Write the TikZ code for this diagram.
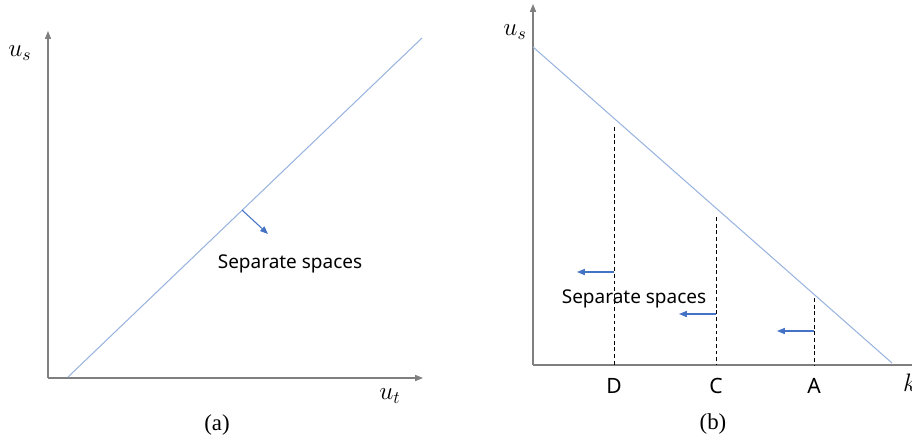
\documentclass[tikz,border=0pt]{standalone}
\usepackage{fontspec}
\setmainfont{Liberation Serif}
\setsansfont{Noto Sans}
\usetikzlibrary{arrows.meta,calc,positioning}

\begin{document}
\begin{tikzpicture}[x=0.02cm, y=-0.02cm, >={Triangle[length=4.5pt,width=3.5pt]}, font=\sffamily]
  \definecolor{axis}{HTML}{7F7F7F}
  \definecolor{lineblue}{HTML}{9AB4E0}
  \definecolor{arrowblue}{HTML}{4472C4}
  \tikzset{
    axisline/.style={->, axis, line width=0.6pt},
    curve/.style={lineblue, line width=0.6pt},
    moveleft/.style={->, arrowblue, line width=0.6pt},
    cutline/.style={black, dash pattern=on 2.2pt off 1.6pt, line width=0.5pt},
    ticklabel/.style={font=\sffamily\fontsize{12}{14}\selectfont},
    seplabel/.style={font=\sffamily\fontsize{10.8}{13}\selectfont},
    axislabel/.style={font=\fontsize{14}{16}\selectfont},
    caption/.style={font=\rmfamily\fontsize{13}{15}\selectfont}
  }
  \useasboundingbox (0,0) rectangle (912,440);

  % (a): u_s against u_t
  \coordinate (ao) at (48,378);
  \coordinate (ay) at (48,31);
  \coordinate (ax) at (423,378);
  \draw[axisline] (ao) -- (ay);
  \draw[axisline] (ao) -- (ax);
  \node[axislabel] (aus) at (20,53) {$u_s$};
  \node[axislabel] (aut) at (390,396) {$u_t$};
  \coordinate (ap) at (68,377);
  \coordinate (aq) at (422,38);
  \draw[curve] (ap) -- (aq);
  \coordinate (am) at (242,210);
  \coordinate (an) at (268,234);
  \draw[moveleft] (am) -- (an);
  \node[seplabel] (asep) at (290,264) {Separate spaces};
  \node[caption] (acap) at (217,425) {(a)};

  % (b): u_s against k_j
  \coordinate (bo) at (533,365);
  \coordinate (by) at (533,4);
  \coordinate (bx) at (920,365);
  \draw[axisline] (bo) -- (by);
  \draw[axisline] (bo) -- (bx);
  \node[axislabel] (bus) at (515,32) {$u_s$};
  \node[axislabel, anchor=west] (bkj) at (897,386) {$k_j$};
  \coordinate (bp) at (533,47);
  \coordinate (bq) at (892,363);
  \draw[curve] (bp) -- (bq);
  \foreach \name/\x/\top/\y/\len in {D/614/127/272/37, C/716/217/314/37, A/814/298/331/37} {
    \coordinate (\name top) at (\x,\top);
    \coordinate (\name foot) at (\x,365);
    \draw[cutline] (\name top) -- (\name foot);
    \coordinate (\name from) at (\x,\y);
    \coordinate (\name to) at (\x-\len,\y);
    \draw[moveleft] (\name from) -- (\name to);
    \node[ticklabel] (\name lab) at (\x,386) {\name};
  }
  \node[seplabel] (bsep) at (634,299) {Separate spaces};
  \node[caption] (bcap) at (713,424) {(b)};
\end{tikzpicture}
\end{document}
